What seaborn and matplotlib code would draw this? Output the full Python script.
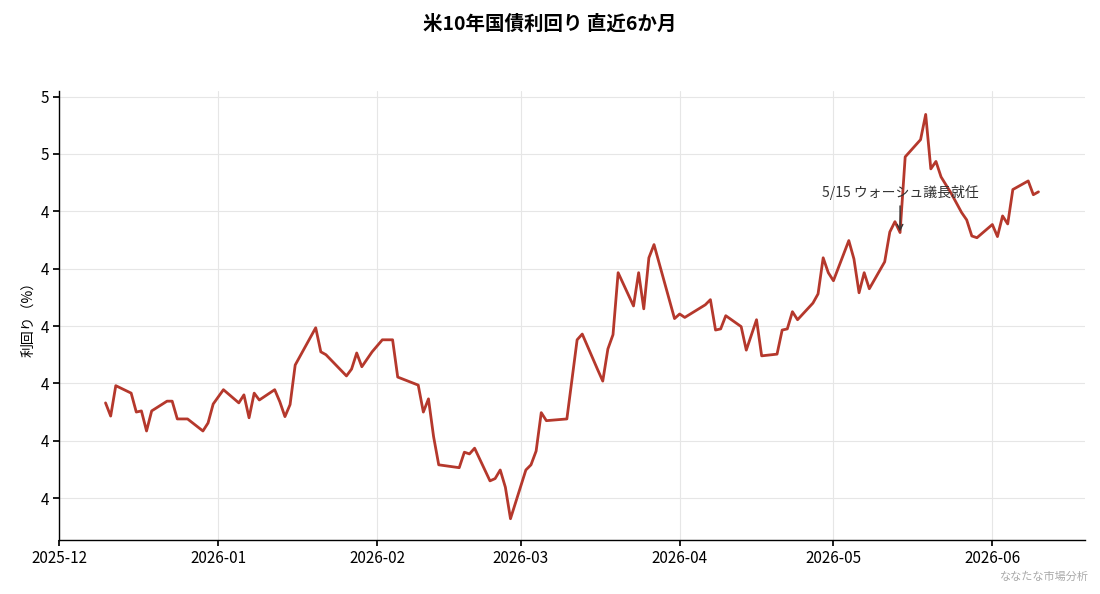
import matplotlib
matplotlib.use("Agg")
import matplotlib.pyplot as plt
import seaborn as sns
import pandas as pd
import numpy as np
import matplotlib.dates as mdates
from matplotlib.ticker import FormatStrFormatter

day_offsets = [9,10,11,14,15,16,17,18,21,22,23,25,28,29,30,32,35,36,37,38,39,42,43,44,45,46,50,51,52,56,57,58,59,61,63,65,66,70,71,72,73,74,78,79,80,81,84,85,86,87,88,91,92,93,94,95,99,101,102,105,106,107,108,109,112,113,114,115,116,120,121,122,126,127,128,129,130,133,134,136,137,140,141,142,143,144,147,148,149,150,151,154,155,156,157,158,161,162,163,164,165,168,169,170,171,172,174,176,177,178,179,182,183,184,185,186,189,190,191]
yields = [4.166,4.143,4.196,4.183,4.150,4.152,4.117,4.152,4.169,4.169,4.138,4.138,4.117,4.131,4.164,4.189,4.166,4.180,4.140,4.183,4.171,4.189,4.168,4.142,4.163,4.232,4.297,4.255,4.250,4.213,4.225,4.253,4.229,4.255,4.276,4.276,4.211,4.197,4.150,4.173,4.107,4.058,4.053,4.080,4.077,4.087,4.030,4.034,4.049,4.019,3.964,4.049,4.058,4.082,4.149,4.135,4.138,4.276,4.286,4.224,4.204,4.260,4.285,4.393,4.335,4.393,4.330,4.419,4.442,4.313,4.321,4.315,4.337,4.346,4.293,4.295,4.318,4.299,4.258,4.311,4.248,4.251,4.293,4.295,4.325,4.311,4.340,4.356,4.419,4.393,4.379,4.449,4.417,4.358,4.393,4.365,4.412,4.464,4.482,4.463,4.595,4.625,4.669,4.574,4.587,4.560,4.531,4.498,4.485,4.457,4.454,4.477,4.456,4.492,4.478,4.538,4.553,4.529,4.534]
yticks = [4.0,4.1,4.2,4.3,4.4,4.5,4.6,4.7]
ann_date = "2026-05-14"
ann_value = 4.46
ann_text = "5/15 ウォーシュ議長就任"

dates = pd.Timestamp("2025-12-01") + pd.to_timedelta(day_offsets, unit="D")
df = pd.DataFrame({"date": dates, "yield": yields})

sns.set_theme(style="whitegrid")
plt.rcParams["font.family"] = ["Noto Sans CJK JP", "DejaVu Sans"]

fig = plt.figure(figsize=(11, 5.94), dpi=100)
ax = fig.add_axes([0.054, 0.091, 0.932, 0.755])
sns.lineplot(data=df, x="date", y="yield", ax=ax, color="#b5382c", linewidth=2)
ax.set_xlim(pd.Timestamp("2025-12-01"), pd.Timestamp("2026-06-19"))
ax.set_ylim(3.927, 4.709)
ax.set_yticks(yticks)
ax.yaxis.set_major_formatter(FormatStrFormatter("%.0f"))
ax.xaxis.set_major_locator(mdates.MonthLocator())
ax.xaxis.set_major_formatter(mdates.DateFormatter("%Y-%m"))
ax.set_xlabel("")
ax.set_ylabel("利回り（%）", fontsize=10, color="black")
ax.tick_params(axis="both", labelsize=11, length=4, color="black", labelcolor="black", left=True, bottom=True)
ax.grid(color="#e6e6e6", linewidth=0.8)
for s in ["top", "right"]:
    ax.spines[s].set_visible(False)
for s in ["left", "bottom"]:
    ax.spines[s].set_color("black")
    ax.spines[s].set_linewidth(1)
ax.set_facecolor("white")
ax.annotate(ann_text, xy=(pd.Timestamp(ann_date), ann_value), xytext=(pd.Timestamp(ann_date), 4.52),
            ha="center", va="bottom", fontsize=10, color="#333333",
            arrowprops=dict(arrowstyle="->", color="#333333", lw=1))
fig.suptitle("米10年国債利回り 直近6か月", fontsize=14, fontweight="bold", y=0.975, color="black")
fig.text(0.99, 0.02, "ななたな市場分析", ha="right", va="bottom", fontsize=8, color="#aaaaaa")
fig.savefig("out.png", dpi=100, facecolor="white")
